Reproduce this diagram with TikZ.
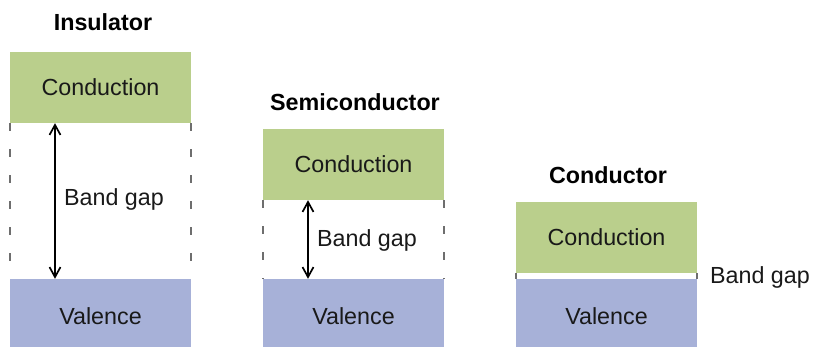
\documentclass[tikz,border=0pt]{standalone}
\usepackage{fontspec}
\setmainfont{Liberation Sans}
\usetikzlibrary{arrows.meta}
\definecolor{condgreen}{RGB}{186,207,140}
\definecolor{valblue}{RGB}{167,177,216}
\definecolor{gapgrey}{RGB}{110,110,110}
\definecolor{txt}{RGB}{25,25,25}
\begin{document}
\begin{tikzpicture}[x=1pt,y=-1pt,
  band/.style={rectangle,inner sep=0pt,minimum width=181pt,text=txt,font=\fontsize{23.3}{27}\selectfont},
  condband/.style={band,fill=condgreen,minimum height=71pt},
  valband/.style={band,fill=valblue,minimum height=74pt},
  title/.style={font=\fontsize{23.3}{27}\selectfont\bfseries,text=black,inner sep=0pt},
  lbl/.style={font=\fontsize{23.3}{27}\selectfont,text=txt,inner sep=0pt},
  gapline/.style={draw=gapgrey,line width=1.5pt,dash pattern=on 8pt off 18pt},
  gaparrow/.style={draw=black,line width=1.7pt,{Straight Barb[length=10pt,width=11pt]}-{Straight Barb[length=10pt,width=11pt]}}]
\useasboundingbox (0,0) rectangle (813,347);
% Insulator
\node[title] (t1) at (103,22) {Insulator};
\node[condband] (c1) at (100.5,87.5) {Conduction};
\node[valband] (v1) at (100.5,316) {Valence};
\draw[gapline] (c1.south west) -- (v1.north west);
\draw[gapline] (c1.south east) -- (v1.north east);
\coordinate (a1t) at ([xshift=-45.5pt]c1.south);
\coordinate (a1b) at ([xshift=-45.5pt]v1.north);
\draw[gaparrow] (a1t) -- (a1b);
\node[lbl] (g1) at (114,199) {Band gap};
% Semiconductor
\node[title] (t2) at (355,102) {Semiconductor};
\node[condband] (c2) at (353.5,164.5) {Conduction};
\node[valband] (v2) at (353.5,316) {Valence};
\draw[gapline] (c2.south west) -- (v2.north west);
\draw[gapline] (c2.south east) -- (v2.north east);
\coordinate (a2t) at ([xshift=-45.5pt]c2.south);
\coordinate (a2b) at ([xshift=-45.5pt]v2.north);
\draw[gaparrow] (a2t) -- (a2b);
\node[lbl] (g2) at (367,240) {Band gap};
% Conductor
\node[title] (t3) at (608,175) {Conductor};
\node[condband] (c3) at (606.5,237.5) {Conduction};
\node[valband] (v3) at (606.5,316) {Valence};
\draw[gapline] (c3.south west) -- (v3.north west);
\draw[gapline] (c3.south east) -- (v3.north east);
\node[lbl] (g3) at (760,277) {Band gap};
\end{tikzpicture}
\end{document}
